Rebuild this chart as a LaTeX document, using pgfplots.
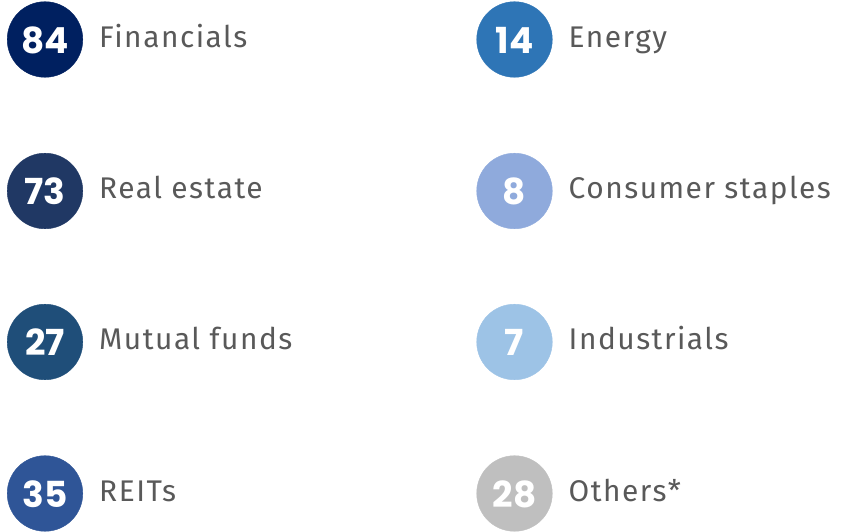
\documentclass[border=0pt]{standalone}
\usepackage{pgfplots}
\pgfplotsset{compat=1.18}
\usepackage{pgfplotstable}
\usepackage{fontspec}
\setmainfont{Fira Sans}[LetterSpace=5]
\newfontfamily\numfont{Poppins}

\definecolor{cA}{HTML}{002060}
\definecolor{cB}{HTML}{203864}
\definecolor{cC}{HTML}{1F4E79}
\definecolor{cD}{HTML}{2F5597}
\definecolor{cE}{HTML}{2E75B6}
\definecolor{cF}{HTML}{8FAADC}
\definecolor{cG}{HTML}{9DC3E6}
\definecolor{cH}{HTML}{BFBFBF}
\definecolor{txt}{HTML}{595959}

% x y in px (y measured from bottom), count, colour class, label
\pgfplotstableread[col sep=comma]{
x,y,n,cls,label
45,492.5,84,a,Financials
45,341,73,b,Real estate
45,190,27,c,Mutual funds
45,38.5,35,d,REITs
514.5,492.5,14,e,Energy
514.5,341,8,f,Consumer staples
514.5,190,7,g,Industrials
514.5,38.5,28,h,Others*
}\sectors

\begin{document}
\begin{tikzpicture}
\begin{axis}[
  x=1bp, y=1bp,
  xmin=0, xmax=845, ymin=0, ymax=532,
  hide axis, clip=false,
]
% keeps the page at the full size
\addplot[draw=none] coordinates {(0,0) (845,532)};

% circles
\addplot[
  scatter, only marks, mark=*, mark size=37.8bp,
  scatter src=explicit symbolic,
  scatter/classes={
    a={mark=*,fill=cA,draw=cA}, b={mark=*,fill=cB,draw=cB},
    c={mark=*,fill=cC,draw=cC}, d={mark=*,fill=cD,draw=cD},
    e={mark=*,fill=cE,draw=cE}, f={mark=*,fill=cF,draw=cF},
    g={mark=*,fill=cG,draw=cG}, h={mark=*,fill=cH,draw=cH}},
] table[x=x, y=y, meta=cls] {\sectors};

% counts
\addplot[
  only marks, mark=none,
  point meta=explicit symbolic,
  nodes near coords,
  every node near coord/.style={anchor=base, inner sep=0pt,
    text=white, font=\numfont\bfseries\fontsize{36}{36}\selectfont},
] table[x=x, y expr=\thisrow{y}-14, meta=n] {\sectors};

% sector names
\addplot[
  only marks, mark=none,
  point meta=explicit symbolic,
  nodes near coords,
  every node near coord/.style={anchor=base west, inner sep=0pt,
    text=txt, font=\fontsize{30}{30}\selectfont},
] table[x expr=\thisrow{x}+54, y expr=\thisrow{y}-8, meta=label] {\sectors};
\end{axis}
\end{tikzpicture}
\end{document}
